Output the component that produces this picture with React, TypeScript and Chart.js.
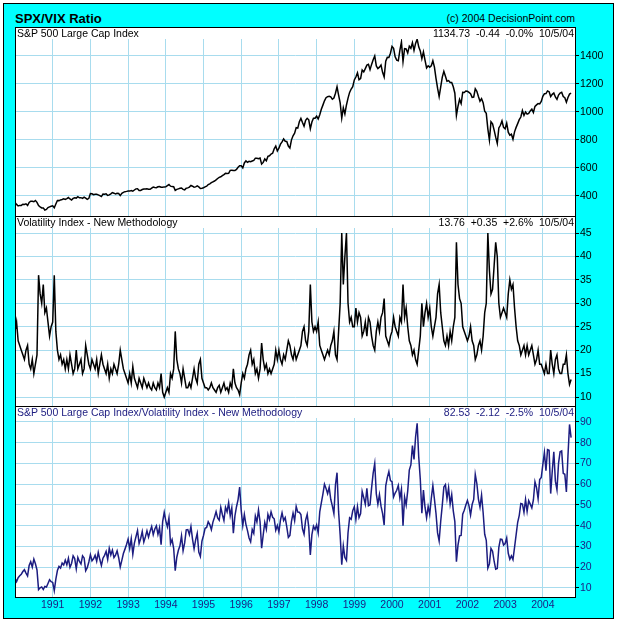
import React, { useEffect, useRef } from 'react';
import { Chart, registerables } from 'chart.js';

Chart.register(...registerables);

// ---------- data (semi-monthly readings, starting Jan 1990) ----------
const START_YEAR = 1990;
const STEP = 1 / 24;

const YEAR_TICKS = [1991, 1992, 1993, 1994, 1995, 1996, 1997, 1998, 1999, 2000, 2001, 2002, 2003, 2004];
const SPX_TICKS = [400, 600, 800, 1000, 1200, 1400];
const VIX_TICKS = [10, 15, 20, 25, 30, 35, 40, 45];
const RATIO_TICKS = [10, 20, 30, 40, 50, 60, 70, 80, 90];

const SPX = [
  353, 340, 329, 333, 333, 341, 339, 344, 332, 354, 363, 362, 359, 368, 355, 332, 323, 315, 315, 300, 304, 317, 322, 327,
  330, 316, 343, 368, 367, 372, 375, 380, 375, 381, 389, 379, 371, 383, 387, 385, 395, 387, 388, 383, 392, 385, 376, 383,
  417, 416, 409, 412, 412, 408, 403, 396, 414, 412, 415, 404, 408, 415, 424, 420, 414, 419, 418, 403, 419, 426, 431, 433,
  436, 435, 439, 434, 443, 451, 452, 440, 440, 446, 450, 450, 451, 449, 448, 456, 464, 461, 459, 466, 468, 463, 462, 465,
  466, 474, 482, 470, 467, 466, 440, 447, 451, 455, 457, 447, 444, 456, 458, 464, 475, 470, 463, 465, 472, 465, 454, 456,
  459, 465, 470, 482, 487, 495, 501, 507, 515, 525, 533, 537, 545, 553, 562, 561, 562, 583, 584, 582, 582, 590, 605, 616,
  616, 601, 636, 651, 640, 648, 645, 650, 654, 670, 669, 666, 671, 628, 640, 665, 652, 683, 687, 700, 705, 737, 757, 722,
  741, 770, 786, 808, 791, 790, 757, 743, 801, 830, 848, 888, 885, 930, 954, 925, 899, 940, 955, 944, 880, 928, 955, 955,
  970, 950, 980, 1020, 1049, 1080, 1102, 1110, 1112, 1108, 1091, 1100, 1134, 1180, 1120, 1065, 957, 1030, 986, 1050, 1099, 1140, 1164, 1180,
  1229, 1250, 1280, 1230, 1238, 1300, 1286, 1310, 1335, 1340, 1302, 1340, 1373, 1400, 1329, 1310, 1320, 1335, 1283, 1250, 1363, 1390, 1389, 1420,
  1469, 1455, 1394, 1370, 1366, 1440, 1499, 1360, 1452, 1450, 1421, 1470, 1455, 1495, 1440, 1490, 1520, 1465, 1436, 1380, 1429, 1370, 1315, 1330,
  1320, 1330, 1366, 1320, 1240, 1170, 1110, 1180, 1249, 1290, 1256, 1220, 1224, 1210, 1211, 1180, 1134, 975, 1041, 1090, 1060, 1140, 1139, 1150,
  1148, 1140, 1130, 1105, 1107, 1165, 1147, 1110, 1077, 1095, 1067, 1005, 990, 880, 800, 930, 916, 870, 820, 776, 886, 905, 936, 890,
  880, 920, 856, 834, 841, 805, 858, 890, 917, 945, 964, 1010, 975, 1000, 985, 990, 1008, 1020, 996, 1040, 1051, 1060, 1058, 1075,
  1112, 1130, 1131, 1150, 1145, 1110, 1126, 1135, 1107, 1090, 1121, 1135, 1141, 1110, 1102, 1070, 1104, 1128, 1134.73,
];

const VIX = [
  24, 26, 22, 21, 20, 19, 18, 20, 21, 17, 16, 18, 15, 17, 19, 36, 32, 30, 34, 28, 29, 26, 23, 25,
  26, 36, 24, 20, 18, 19, 17, 18, 16, 18, 16, 19, 17, 15, 16, 20, 16, 17, 18, 15, 16, 21, 19, 17,
  16, 18, 17, 16, 18, 15, 17, 19, 17, 16, 15, 17, 14, 16, 15, 17, 16, 15, 17, 20, 18, 16, 15, 14,
  13, 15, 13, 16.5, 14, 13, 12, 14, 13, 12, 14, 13, 12, 13, 12, 11.5, 13, 12, 11.5, 13, 12, 15, 11, 10,
  11, 12, 11, 15, 14, 16, 24, 18, 16, 15, 13, 16, 14, 12, 12, 13, 12, 14, 16, 14, 13, 17, 18, 14,
  13, 12, 12, 11.5, 12, 13, 12, 11.5, 11, 12, 12.5, 11, 12, 13, 11.5, 12, 11, 13, 12, 16, 13, 12, 11.5, 10.5,
  13, 15, 14, 16, 17, 19, 20, 17, 18, 15, 16, 14, 16, 21.5, 18, 16, 17, 15, 16, 15, 16, 17, 20, 18,
  20, 18, 17, 19, 18, 20, 22, 21, 19, 18, 20, 18, 19, 20, 21, 24, 25, 22, 21, 24, 34, 26, 24, 25,
  24, 26, 21, 20, 19, 18, 19, 20, 19, 21, 22, 24, 19, 18, 24, 30, 45, 34, 40, 45, 30, 26, 27, 25,
  25, 29, 26, 28, 27, 23, 24, 26, 23, 27, 26, 23, 21, 20, 24, 26, 24, 27, 28, 31, 23, 22, 21, 23,
  24, 27, 25, 24, 23, 27, 26, 34, 27, 29, 25, 22, 21, 19, 20, 18, 17, 20, 23, 30, 25, 28, 30, 27,
  29, 25, 23, 25, 27, 32, 34, 28, 25, 22, 21, 23, 21, 24, 22, 25, 27, 43, 34, 31, 30, 25, 24, 23,
  22, 23, 25, 22, 21, 18, 19, 21, 22, 20, 23, 28, 30, 45, 37, 32, 33, 38, 43, 40, 30, 27, 28, 29,
  28, 27, 32, 35, 33, 34, 29, 25, 22, 21, 19, 20, 21, 19, 21, 19, 20, 21, 19, 17, 18, 20, 17, 17,
  16, 15, 17, 15, 15, 20, 17, 15, 18, 19, 16, 15, 15, 17, 17, 19, 15, 12.7, 13.76,
];

// the third panel is, by definition, the S&P 500 / VIX ratio of the two series above
const RATIO = SPX.map((v, i) => v / VIX[i]);

// ---------- styling ----------
const FONT = 'Arial, "Liberation Sans", sans-serif';
const CYAN = '#00ffff';
const GRID = '#a8dcee';
const NAVY = '#1c1c80';
const CANVAS_LEFT = 15;
const CANVAS_W = 599;
const PLOT_W = 561;

Chart.defaults.font.family = FONT;

const framePlugin = {
  id: 'panelFrame',
  beforeDraw(chart: any) {
    const { ctx, chartArea: a } = chart;
    ctx.save();
    ctx.fillStyle = '#ffffff';
    ctx.fillRect(a.left, a.top, a.right - a.left, a.bottom - a.top);
    ctx.restore();
  },
  afterDraw(chart: any) {
    const { ctx, chartArea: a } = chart;
    ctx.save();
    ctx.strokeStyle = '#000';
    ctx.lineWidth = 1;
    ctx.strokeRect(a.left + 0.5, a.top + 0.5, a.right - a.left - 1, a.bottom - a.top - 1);
    ctx.restore();
  },
};

type PanelProps = {
  top: number;
  height: number;
  values: number[];
  yMin: number;
  yMax: number;
  yTicks: number[];
  color: string;
  tickColor: string;
  showX: boolean;
};

function Panel({ top, height, values, yMin, yMax, yTicks, color, tickColor, showX }: PanelProps) {
  const ref = useRef<HTMLCanvasElement>(null);
  useEffect(() => {
    const points = values.map((v, i) => ({ x: START_YEAR + i * STEP, y: v }));
    const chart = new Chart(ref.current as HTMLCanvasElement, {
      type: 'line',
      data: {
        datasets: [
          {
            data: points,
            borderColor: color,
            borderWidth: 1.5,
            pointRadius: 0,
            tension: 0,
            fill: false,
          },
        ],
      },
      options: {
        responsive: false,
        animation: false,
        layout: { padding: 0 },
        plugins: { legend: { display: false }, tooltip: { enabled: false }, title: { display: false } },
        scales: {
          x: {
            type: 'linear',
            min: 1990,
            max: 2004.88,
            border: { display: false },
            grid: { color: GRID, lineWidth: 1, drawTicks: false },
            afterBuildTicks: (ax: any) => {
              ax.ticks = YEAR_TICKS.map((v) => ({ value: v }));
            },
            afterFit: (ax: any) => {
              ax.height = showX ? height - 192 : 0;
              ax.paddingLeft = 0;
              ax.paddingRight = 0;
            },
            ticks: {
              display: showX,
              color: NAVY,
              font: { size: 10.5, family: FONT },
              padding: 1,
              autoSkip: false,
              maxRotation: 0,
              callback: (v: any) => String(v),
            },
          },
          y: {
            type: 'linear',
            position: 'right',
            min: yMin,
            max: yMax,
            border: { display: false },
            grid: { color: GRID, lineWidth: 1, drawTicks: true, tickLength: 3, tickColor: '#000' },
            afterBuildTicks: (ax: any) => {
              ax.ticks = yTicks.map((v) => ({ value: v }));
            },
            afterFit: (ax: any) => {
              ax.width = CANVAS_W - PLOT_W;
              ax.paddingTop = 0;
              ax.paddingBottom = 0;
            },
            ticks: {
              color: tickColor,
              font: { size: 10.5, family: FONT },
              padding: 1,
              autoSkip: false,
              callback: (v: any) => String(v),
            },
          },
        },
      },
      plugins: [framePlugin],
    } as any);
    return () => chart.destroy();
  }, []);
  return (
    <canvas
      ref={ref}
      width={CANVAS_W}
      height={height}
      style={{ position: 'absolute', left: CANVAS_LEFT, top, width: CANVAS_W, height }}
    />
  );
}

function Label({ top, left, right, color }: { top: number; left: string; right: string; color: string }) {
  return (
    <div
      style={{
        position: 'absolute',
        left: 16,
        top: top + 1,
        width: PLOT_W - 2,
        height: 11,
        background: '#fff',
        color,
        font: `10.5px ${FONT}`,
        lineHeight: '11px',
        whiteSpace: 'pre',
      }}
    >
      <span style={{ position: 'absolute', left: 1, top: 0 }}>{left}</span>
      <span style={{ position: 'absolute', right: 1, top: 0 }}>{right}</span>
    </div>
  );
}

export default function App() {
  return (
    <div style={{ position: 'absolute', left: 0, top: 0, width: 618, height: 623, background: '#fff', overflow: 'hidden' }}>
      <div
        style={{
          position: 'absolute',
          left: 3,
          top: 3,
          width: 611,
          height: 616,
          background: CYAN,
          border: '1px solid #000',
          boxSizing: 'border-box',
        }}
      />
      <div style={{ position: 'absolute', left: 15, top: 11, font: `bold 13px ${FONT}`, lineHeight: '16px', color: '#000' }}>
        SPX/VIX Ratio
      </div>
      <div
        style={{
          position: 'absolute',
          right: 618 - 575,
          top: 12,
          font: `10.5px ${FONT}`,
          lineHeight: '13px',
          color: '#000',
          whiteSpace: 'pre',
        }}
      >
        (c) 2004 DecisionPoint.com
      </div>
      <Panel top={27} height={190} values={SPX} yMin={250} yMax={1607} yTicks={SPX_TICKS} color="#000" tickColor="#000" showX={false} />
      <Panel top={216} height={191} values={VIX} yMin={7.87} yMax={48.63} yTicks={VIX_TICKS} color="#000" tickColor="#000" showX={false} />
      <Panel top={406} height={212} values={RATIO} yMin={5.18} yMax={97.71} yTicks={RATIO_TICKS} color={NAVY} tickColor={NAVY} showX={true} />
      <Label top={27} left="S&P 500 Large Cap Index" right="1134.73  -0.44  -0.0%  10/5/04" color="#000" />
      <Label top={216} left="Volatility Index - New Methodology" right="13.76  +0.35  +2.6%  10/5/04" color="#000" />
      <Label
        top={406}
        left="S&P 500 Large Cap Index/Volatility Index - New Methodology"
        right="82.53  -2.12  -2.5%  10/5/04"
        color={NAVY}
      />
    </div>
  );
}
